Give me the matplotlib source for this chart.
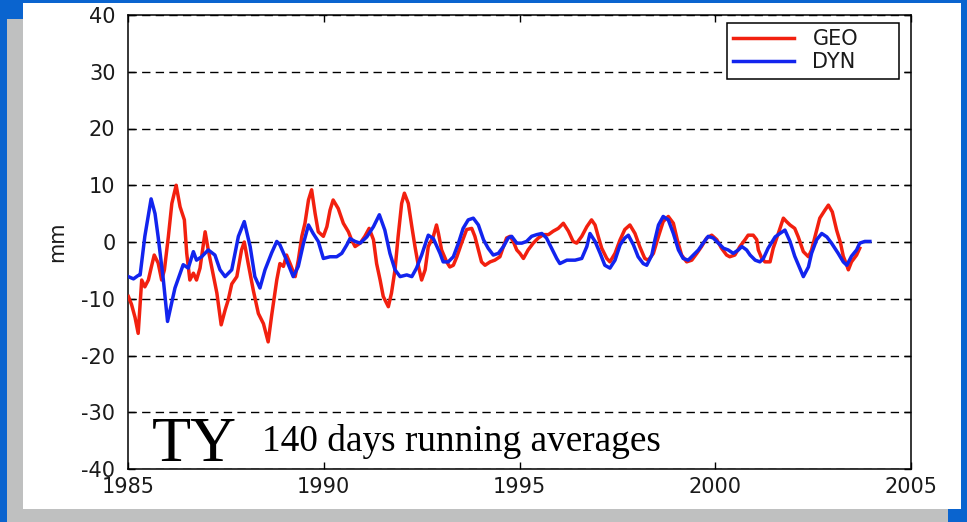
import matplotlib
matplotlib.use("Agg")
import matplotlib.pyplot as plt
from matplotlib.patches import Rectangle

plt.rcParams["axes.unicode_minus"] = False

# 140-day running averages, sea level signal at TY (mm)
geo_year = [1985.01, 1985.09, 1985.18, 1985.26, 1985.35, 1985.43, 1985.52, 1985.60, 1985.67,
            1985.77, 1985.86, 1985.93, 1986.03, 1986.12, 1986.23, 1986.33, 1986.44, 1986.50,
            1986.58, 1986.67, 1986.75, 1986.84, 1986.97, 1987.05, 1987.15, 1987.27, 1987.38,
            1987.48, 1987.56, 1987.65, 1987.78, 1987.90, 1987.97, 1988.07, 1988.20, 1988.33,
            1988.46, 1988.58, 1988.67, 1988.80, 1988.88, 1988.97, 1989.05, 1989.14, 1989.27,
            1989.35, 1989.44, 1989.52, 1989.61, 1989.69, 1989.78, 1989.86, 1989.99, 1990.08,
            1990.16, 1990.24, 1990.37, 1990.50, 1990.63, 1990.71, 1990.80, 1990.93, 1991.05,
            1991.16, 1991.27, 1991.35, 1991.44, 1991.52, 1991.65, 1991.73, 1991.82, 1991.90,
            1991.99, 1992.06, 1992.16, 1992.25, 1992.33, 1992.42, 1992.50, 1992.59, 1992.67,
            1992.80, 1992.88, 1992.93, 1993.01, 1993.14, 1993.22, 1993.31, 1993.40, 1993.52,
            1993.65, 1993.78, 1993.86, 1993.95, 1994.03, 1994.12, 1994.25, 1994.37, 1994.50,
            1994.59, 1994.67, 1994.76, 1994.84, 1994.93, 1995.01, 1995.10, 1995.22, 1995.35,
            1995.48, 1995.61, 1995.74, 1995.86, 1995.99, 1996.12, 1996.25, 1996.37, 1996.46,
            1996.59, 1996.72, 1996.84, 1996.93, 1997.01, 1997.10, 1997.23, 1997.31, 1997.44,
            1997.57, 1997.69, 1997.82, 1997.95, 1998.07, 1998.20, 1998.29, 1998.42, 1998.55,
            1998.67, 1998.80, 1998.93, 1999.03, 1999.14, 1999.27, 1999.40, 1999.53, 1999.65,
            1999.78, 1999.91, 2000.04, 2000.16, 2000.29, 2000.37, 2000.50, 2000.63, 2000.76,
            2000.84, 2000.97, 2001.06, 2001.10, 2001.19, 2001.27, 2001.40, 2001.48, 2001.61,
            2001.74, 2001.82, 2001.91, 2002.03, 2002.12, 2002.25, 2002.38, 2002.46, 2002.59,
            2002.67, 2002.80, 2002.89, 2002.99, 2003.10, 2003.20, 2003.27, 2003.36, 2003.40,
            2003.48, 2003.61, 2003.69]
geo_mm = [-9.6, -11.0, -13.3, -16.1, -6.7, -7.9, -6.7, -4.3, -2.3,
          -3.7, -6.7, -4.9, 0.9, 6.8, 10.0, 6.2, 3.9, -2.0,
          -6.7, -5.5, -6.7, -4.6, 1.8, -1.4, -4.9, -9.0, -14.6,
          -12.0, -10.2, -7.4, -6.1, -1.4, 0.0, -3.8, -8.5, -12.6,
          -14.4, -17.6, -12.9, -6.7, -3.8, -4.3, -2.3, -3.8, -6.1,
          -3.2, 1.0, 3.3, 7.4, 9.2, 5.0, 1.8, 1.0, 2.7,
          5.6, 7.4, 5.9, 3.3, 1.8, 0.4, -0.8, -0.2, 1.0,
          2.4, 0.4, -3.8, -6.7, -9.6, -11.4, -9.0, -4.9, 1.0,
          6.8, 8.6, 6.8, 2.7, -0.8, -4.3, -6.7, -4.9, -0.8,
          1.0, 3.0, 1.5, -1.4, -3.5, -4.4, -4.1, -2.6, -0.2,
          2.2, 2.4, 1.0, -1.4, -3.5, -4.1, -3.5, -3.2, -2.6,
          -0.8, 0.7, 1.0, 0.1, -1.4, -2.0, -2.9, -1.4, -0.2,
          0.7, 1.3, 1.3, 1.9, 2.4, 3.3, 1.9, 0.1, -0.2,
          1.0, 2.7, 3.9, 3.0, 1.0, -1.1, -2.9, -3.5, -2.0,
          0.4, 2.2, 3.0, 1.5, -0.8, -2.9, -3.2, -2.0, 1.0,
          3.6, 4.5, 3.3, 0.4, -2.3, -3.5, -3.2, -2.0, -0.8,
          0.7, 1.2, 0.4, -1.1, -2.3, -2.6, -2.3, -0.8, 0.4,
          1.2, 1.2, 0.4, -1.4, -2.9, -3.5, -3.5, -1.1, 1.5,
          4.2, 3.6, 3.0, 2.4, 0.9, -1.7, -2.6, -1.4, 2.1,
          4.2, 5.6, 6.5, 5.3, 2.1, -0.2, -2.5, -4.1, -4.9,
          -3.5, -2.3, -1.1]

dyn_year = [1985.01, 1985.14, 1985.26, 1985.31, 1985.43, 1985.59, 1985.69, 1985.77, 1985.90,
            1986.01, 1986.20, 1986.41, 1986.54, 1986.67, 1986.75, 1986.88, 1987.05, 1987.22,
            1987.35, 1987.48, 1987.65, 1987.82, 1987.97, 1988.12, 1988.24, 1988.37, 1988.50,
            1988.67, 1988.80, 1988.88, 1989.05, 1989.22, 1989.35, 1989.48, 1989.61, 1989.73,
            1989.86, 1989.99, 1990.16, 1990.33, 1990.46, 1990.59, 1990.67, 1990.80, 1990.93,
            1991.10, 1991.27, 1991.42, 1991.56, 1991.69, 1991.82, 1991.95, 1992.12, 1992.25,
            1992.37, 1992.50, 1992.67, 1992.80, 1992.97, 1993.05, 1993.18, 1993.31, 1993.44,
            1993.56, 1993.69, 1993.82, 1993.95, 1994.08, 1994.20, 1994.33, 1994.46, 1994.59,
            1994.71, 1994.80, 1994.93, 1995.06, 1995.18, 1995.31, 1995.44, 1995.57, 1995.69,
            1995.82, 1995.95, 1996.03, 1996.21, 1996.42, 1996.59, 1996.72, 1996.80, 1996.93,
            1997.06, 1997.18, 1997.31, 1997.44, 1997.57, 1997.69, 1997.78, 1997.91, 1998.03,
            1998.16, 1998.25, 1998.38, 1998.46, 1998.55, 1998.67, 1998.80, 1998.93, 1999.06,
            1999.18, 1999.31, 1999.44, 1999.57, 1999.69, 1999.82, 1999.95, 2000.08, 2000.21,
            2000.33, 2000.46, 2000.59, 2000.68, 2000.80, 2000.89, 2001.02, 2001.14, 2001.23,
            2001.35, 2001.53, 2001.65, 2001.78, 2001.91, 2002.03, 2002.16, 2002.25, 2002.38,
            2002.46, 2002.59, 2002.72, 2002.85, 2002.97, 2003.14, 2003.27, 2003.36, 2003.48,
            2003.61, 2003.69, 2003.82, 2003.95]
dyn_mm = [-6.1, -6.5, -5.9, -5.8, 1.0, 7.6, 5.0, 0.9, -6.5,
          -14.0, -8.1, -4.0, -4.6, -1.7, -3.2, -2.6, -1.4, -2.3,
          -4.9, -6.1, -4.9, 1.0, 3.6, -0.8, -6.1, -8.1, -4.9,
          -1.9, 0.1, -0.5, -3.2, -6.1, -4.3, -0.3, 3.0, 1.5,
          0.1, -2.9, -2.6, -2.6, -2.0, -0.5, 0.6, 0.1, -0.2,
          0.9, 2.7, 4.8, 2.1, -2.0, -4.9, -6.1, -5.8, -6.1,
          -4.6, -2.3, 1.2, 0.6, -2.0, -3.5, -3.5, -2.6, -0.2,
          2.4, 3.9, 4.2, 3.0, 0.4, -1.1, -2.3, -2.0, -0.8,
          0.7, 1.0, -0.2, -0.2, 0.1, 1.0, 1.3, 1.5, 0.7,
          -1.1, -2.9, -3.8, -3.2, -3.2, -2.9, -0.8, 1.5, 0.1,
          -2.0, -4.1, -4.6, -3.2, -0.5, 0.7, 1.2, -0.5, -2.6,
          -3.8, -4.1, -2.3, 0.4, 3.0, 4.5, 3.9, 1.5, -1.4,
          -2.9, -3.2, -2.3, -1.4, -0.2, 1.0, 0.7, -0.2, -1.1,
          -1.4, -2.0, -1.4, -0.8, -1.4, -2.3, -3.2, -3.5, -2.9,
          -1.1, 0.9, 1.5, 2.1, 0.1, -2.5, -4.6, -6.1, -4.4,
          -2.0, 0.4, 1.5, 0.9, -0.2, -2.0, -3.5, -4.1, -2.5,
          -1.4, -0.2, 0.1, 0.1]

x_ticks = [1985, 1990, 1995, 2000, 2005]
y_ticks = [-40, -30, -20, -10, 0, 10, 20, 30, 40]
series_labels = ["GEO", "DYN"]

W, H = 967, 522
fig = plt.figure(figsize=(W / 100, H / 100), dpi=100, facecolor="#0a64cf")


def px_rect(x0, y0, x1, y1, color, z):
    """Rectangle given in pixel coordinates measured from the top-left corner."""
    fig.patches.append(Rectangle((x0 / W, 1 - y1 / H), (x1 - x0) / W, (y1 - y0) / H,
                                 transform=fig.transFigure, facecolor=color,
                                 edgecolor="none", zorder=z))


# slide panel with its drop shadow
px_rect(7, 19, 948, 530, "#bfc0c0", -2)
px_rect(23, 3, 961, 509, "white", -1)

ax = fig.add_axes([128 / W, 1 - 469 / H, (911 - 128) / W, (469 - 15) / H])
ax.set_facecolor("white")

ax.plot(geo_year, geo_mm, color="#f2200f", lw=2.5, label=series_labels[0], zorder=3)
ax.plot(dyn_year, dyn_mm, color="#1224ee", lw=2.5, label=series_labels[1], zorder=4)

ax.set_xlim(1985, 2005)
ax.set_ylim(-40, 40)
ax.set_xticks(x_ticks)
ax.set_yticks(y_ticks)
ax.tick_params(direction="in", length=5, width=1, top=True, right=True,
               labelsize=15, labelcolor="#1a1a1a")
ax.tick_params(axis="y", pad=9)
ax.tick_params(axis="x", pad=6)
for lab in ax.get_xticklabels() + ax.get_yticklabels():
    lab.set_family("DejaVu Sans")
for s in ax.spines.values():
    s.set_linewidth(1.1)
    s.set_color("black")

ax.yaxis.grid(True, color="black", linewidth=1.0, linestyle=(0, (6, 3.8)), zorder=1)
ax.set_axisbelow(True)

# legend box spans a fixed region; handles stay at its left edge
lx0, ly0, lx1, ly1 = 727, 23, 899, 78
leg = ax.legend(loc="upper left", mode="expand",
                bbox_to_anchor=(lx0 / W, 1 - ly1 / H, (lx1 - lx0) / W, (ly1 - ly0) / H),
                bbox_transform=fig.transFigure, borderaxespad=0, fancybox=False,
                frameon=True, edgecolor="black", framealpha=1,
                handlelength=2.9, handletextpad=0.9, labelspacing=0.15,
                borderpad=0.3, prop={"family": "DejaVu Sans", "size": 15})
leg.get_frame().set_linewidth(1.1)
for t in leg.get_texts():
    t.set_color("#1a1a1a")

fig.text(57 / W, 1 - 242 / H, "mm", rotation=90, ha="center", va="center",
         fontsize=15, color="#1a1a1a", family="DejaVu Sans")

fig.text(152 / W, 1 - 461 / H, "TY", fontsize=46, family="Liberation Serif",
         ha="left", va="baseline", color="black")
fig.text(262 / W, 1 - 451 / H, "140 days running averages", fontsize=26.8,
         family="Liberation Serif", ha="left", va="baseline", color="black")

fig.savefig("out.png", dpi=100, facecolor=fig.get_facecolor())
